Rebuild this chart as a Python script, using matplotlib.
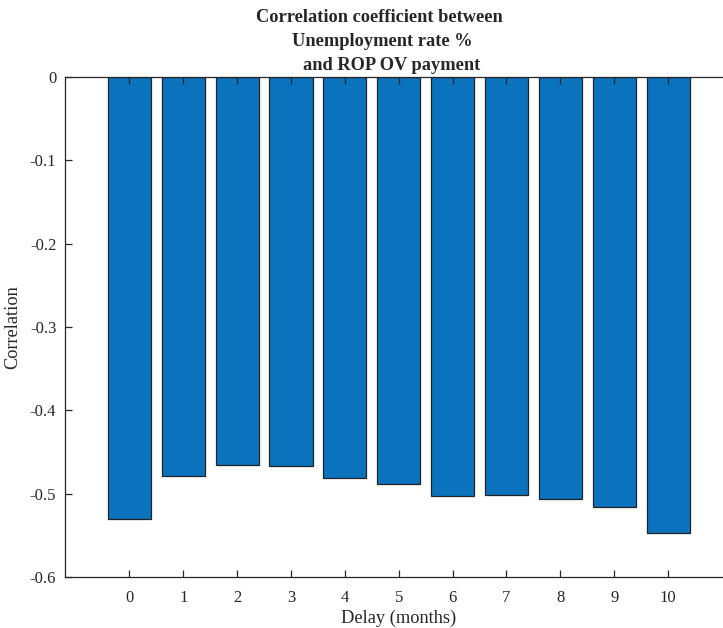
import numpy as np
import matplotlib
matplotlib.use("Agg")
import matplotlib.pyplot as plt

plt.rcParams['font.family'] = ['Liberation Serif', 'DejaVu Serif']

# lag in months and correlation at each lag
delay = [0, 1, 2, 3, 4, 5, 6, 7, 8, 9, 10]
corr = [-0.5305, -0.479, -0.465, -0.4666, -0.4814, -0.4878,
        -0.5022, -0.501, -0.5066, -0.5158, -0.547]
yticks = [0, -0.1, -0.2, -0.3, -0.4, -0.5, -0.6]
title_lines = ['Correlation coefficient between', 'Unemployment rate %', 'and ROP OV payment']

W, H = 723, 628
fig = plt.figure(figsize=(W / 100, H / 100), dpi=100)
ax = fig.add_axes([64.7 / W, (H - 577.3) / H, 668 / W, 500.6 / H])

ax.bar(delay, corr, width=0.8, color='#0B72BD', edgecolor='#222222', linewidth=0.9, zorder=2)

ax.set_xlim(-1.2, 11.2)
ax.set_ylim(-0.6, 0)
ax.set_xticks(delay)
ax.set_xticklabels([str(d) for d in delay])
ax.set_yticks(yticks)
ax.set_yticklabels(['0', '-0.1', '-0.2', '-0.3', '-0.4', '-0.5', '-0.6'])

axcol = '#262626'
for s in ax.spines.values():
    s.set_color(axcol)
    s.set_linewidth(0.9)
    s.set_zorder(3)
ax.tick_params(axis='both', direction='in', length=5, width=0.9, color=axcol,
               labelsize=12, labelcolor=axcol, top=True, right=False)
ax.tick_params(axis='x', pad=9)
ax.tick_params(axis='y', pad=6)
for t in ax.xaxis.get_major_ticks():
    t.tick1line.set_zorder(4)
    t.tick2line.set_zorder(4)
ax.set_axisbelow(False)

ax.set_xlabel('Delay (months)', fontsize=13.2, color=axcol, labelpad=3)
ax.set_ylabel('Correlation', fontsize=13.2, color=axcol, labelpad=6)

# three-line title, each line placed on its own
for line, xc, yc in zip(title_lines, [379, 382, 392], [17, 42, 66]):
    fig.text(xc / W, 1 - yc / H, line, ha='center', va='center',
             fontsize=13.2, fontweight='bold', color=axcol)

fig.savefig('out.png', dpi=100)
